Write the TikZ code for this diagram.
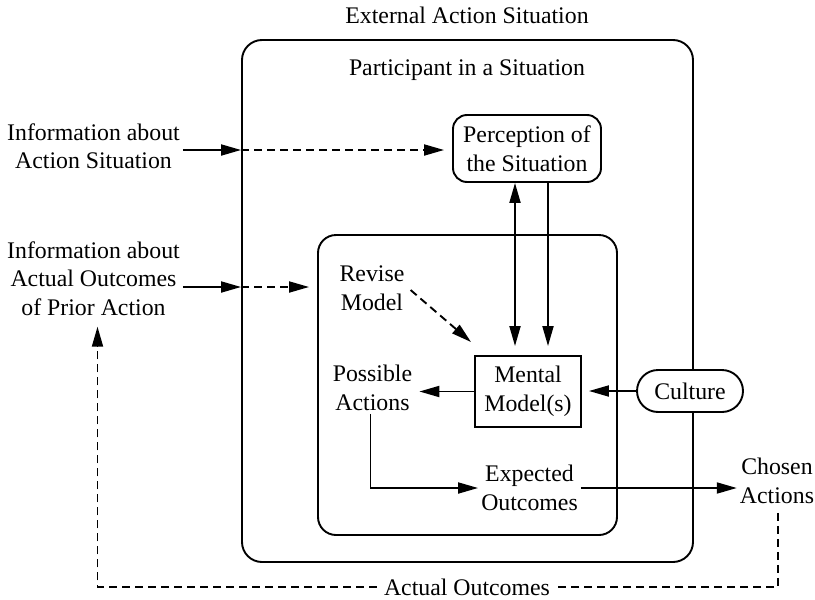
\documentclass[tikz,border=0pt]{standalone}
\usepackage{fontspec}
\setmainfont{Liberation Serif}
\usetikzlibrary{arrows.meta}
\newcommand{\diagfont}{\fontsize{23.8pt}{28.5pt}\selectfont}

\begin{document}
\begin{tikzpicture}[x=1pt, y=-1pt,
    every node/.style={font=\diagfont, align=center, inner sep=3pt},
    line/.style={line width=1.9pt},
    frame/.style={draw, line, rounded corners=#1},
    arr/.style={line, -{Triangle[length=20pt,width=11pt]}},
    darr/.style={arr, dash pattern=on 8pt off 5pt},
    dline/.style={line, dash pattern=on 8pt off 5pt},
    twoway/.style={line, {Triangle[length=20pt,width=11pt]}-{Triangle[length=20pt,width=11pt]}}]
    \useasboundingbox (0,0) rectangle (815,600);

    % frames
    \node[anchor=base] (ext) at (467,23) {External Action Situation};
    \node[frame=20pt, minimum width=451pt, minimum height=522pt] (outer) at (467.5,301) {};
    \node[anchor=base] (part) at (467,75) {Participant in a Situation};
    \node[frame=14pt, minimum width=148pt, minimum height=67pt] (perc) at (527,148.5) {Perception of\\the Situation};
    \node[frame=18pt, minimum width=299pt, minimum height=300pt] (inner) at (467.5,385) {};

    % labels
    \node (info1) at (93.5,146) {Information about\\Action Situation};
    \node (info2) at (93.5,278.5) {Information about\\Actual Outcomes\\of Prior Action};
    \node (revise) at (372,288) {Revise\\Model};
    \node[draw, line, minimum width=106pt, minimum height=71pt] (mental) at (528,391.5) {Mental\\Model(s)};
    \node (poss) at (372.5,388) {Possible\\Actions};
    \node[frame=21pt, fill=white, minimum width=106pt, minimum height=42pt] (culture) at (690,391) {Culture};
    \node (expect) at (529.5,488) {Expected\\Outcomes};
    \node (chosen) at (777,481) {Chosen\\Actions};
    \node[inner sep=7pt] (actual) at (467,587) {Actual Outcomes};

    \coordinate (in1) at (outer.west |- 0,150);
    \coordinate (in2) at (outer.west |- 0,287);
    \coordinate (p1) at ([xshift=-12pt]perc.south);
    \coordinate (p2) at ([xshift=21pt]perc.south);

    % information coming in
    \draw[arr] (info1.east |- in1) -- (in1);
    \draw[darr, shorten >=8pt] (in1) -- (perc.west |- in1);
    \draw[arr] (info2.east |- in2) -- (in2);
    \draw[darr, shorten >=8pt] (in2) -- (inner.west |- in2);

    % inside the participant
    \draw[darr] ([shift={(3,2)}]revise.east) -- ([shift={(-3,-13)}]mental.north west);
    \draw[twoway, shorten >=9pt] (p1) -- (p1 |- mental.north);
    \draw[arr, shorten >=9pt] (p2) -- (p2 |- mental.north);
    \draw[arr, shorten >=4pt] (mental.west) -- (mental.west -| poss.east);
    \draw[arr, shorten >=7pt] (culture.west) -- (culture.west -| mental.east);
    \draw[arr] ([xshift=-2pt]poss.south) |- (expect.west);
    \draw[arr] (expect.east) -- (expect.east -| chosen.west);

    % feedback
    \draw[dline, shorten <=6pt] ([xshift=1pt]chosen.south) |- (actual.east);
    \draw[darr, shorten >=8pt] (actual.west) -| ([xshift=4pt]info2.south);
\end{tikzpicture}
\end{document}
